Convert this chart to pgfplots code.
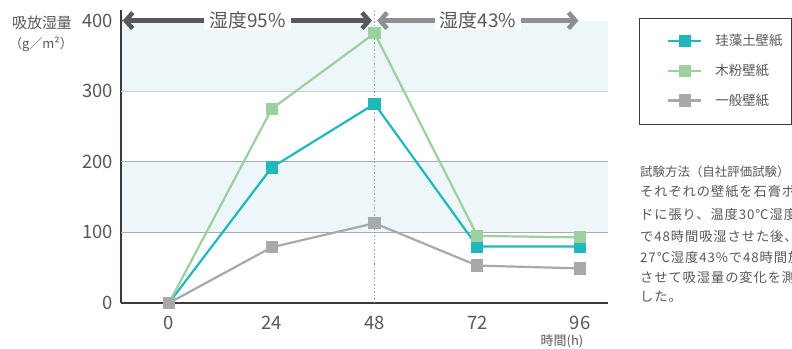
\documentclass[border=0pt]{standalone}
\usepackage{pgfplots}
\pgfplotsset{compat=1.18}
\usetikzlibrary{arrows.meta}
\usepackage{fontspec}
\setmainfont{Noto Sans CJK JP}
\newfontfamily\bodyfont[LetterSpace=7]{Noto Sans CJK JP}
\definecolor{teal1}{HTML}{21B8BC}
\definecolor{green1}{HTML}{9DD09F}
\definecolor{gray1}{HTML}{A8A9AC}
\definecolor{band}{HTML}{EDF6F8}
\definecolor{txt}{HTML}{595757}
\definecolor{darkarrow}{HTML}{58595B}
\definecolor{lightarrow}{HTML}{8E8F91}
\definecolor{spine}{HTML}{3E3A39}
\definecolor{gridA}{HTML}{A8AAAC}
\definecolor{gridB}{HTML}{C8CDCF}
\definecolor{dotc}{HTML}{9C9D9F}

\pgfplotstableread{
x y
0 0
24 192
48 282
72 80
96 80
}\teal
\pgfplotstableread{
x y
0 0
24 275
48 382
72 95
96 93
}\green
\pgfplotstableread{
x y
0 0
24 79
48 113
72 53
96 49
}\grayt

\begin{document}
\begin{tikzpicture}[x=1bp,y=1bp]
\useasboundingbox (0,0) rectangle (792,348);
\clip (0,0) rectangle (792,348);
\begin{axis}[
  at={(121bp,45bp)}, anchor=south west,
  scale only axis, width=487bp, height=293bp,
  xmin=-11.2, xmax=102.5, ymin=0, ymax=415,
  clip=false,
  axis x line*=bottom, axis y line*=left,
  axis line style={spine, line width=1.3bp, -},
  xtick={0,24,48,72,96}, ytick={0,100,200,300,400},
  tick align=inside,
  major tick length=5bp,
  xtick style={draw=none},
  ytick style={spine, line width=1bp},
  /pgf/number format/assume math mode=true,
  ticklabel style={font=\fontsize{18.5}{20}\selectfont, text=txt, inner sep=0pt},
  xticklabel style={anchor=base, yshift=-26bp},
  yticklabel style={anchor=east, xshift=-8bp},
  legend style={at={(1.1211,0.924)}, anchor=north west, draw=none, fill=none,
    inner sep=0pt, font=\fontsize{13.5}{16}\selectfont, text=txt,
    row sep=13bp, column sep=11bp, cells={anchor=west}},
  legend image code/.code={\draw[mark repeat=2,mark phase=2] plot coordinates {(0bp,0bp) (16.5bp,0bp) (33bp,0bp)};},
]
\fill[band] (axis cs:-11,100) rectangle (axis cs:102.5,200);
\fill[band] (axis cs:-11,300) rectangle (axis cs:102.5,400);
\draw[gridA, line width=1bp] (axis cs:-11.2,100) -- (axis cs:102.5,100);
\draw[gridA, line width=1bp] (axis cs:-11.2,200) -- (axis cs:102.5,200);
\draw[gridB, line width=1bp] (axis cs:-11.2,300) -- (axis cs:102.5,300);
\draw[dotc, line width=1.3bp, dash pattern=on 1.5bp off 2bp] (axis cs:48,0) -- (axis cs:48,415);

\addplot[teal1, line width=2.2bp, mark=square*, mark size=5bp, mark options={solid, fill=teal1}] table[x=x,y=y] {\teal};
\addlegendentry{珪藻土壁紙}
\addplot[green1, line width=2.2bp, mark=square*, mark size=5bp, mark options={solid, fill=green1}] table[x=x,y=y] {\green};
\addlegendentry{木粉壁紙}
\addplot[gray1, line width=2.2bp, mark=square*, mark size=5bp, mark options={solid, fill=gray1}] table[x=x,y=y] {\grayt};
\addlegendentry{一般壁紙}

\draw[darkarrow, line width=4.5bp, {Straight Barb[length=7bp,width=16bp]}-{Straight Barb[length=7bp,width=16bp]}]
  (axis cs:-10.8,400) -- (axis cs:47.4,400)
  node[midway, fill=white, text=txt, font=\fontsize{19}{21}\selectfont, inner xsep=5bp, inner ysep=1bp] {湿度95\%};
\draw[lightarrow, line width=4.5bp, {Straight Barb[length=7bp,width=16bp]}-{Straight Barb[length=7bp,width=16bp]}]
  (axis cs:48.6,400) -- (axis cs:95.6,400)
  node[midway, fill=white, text=txt, font=\fontsize{19}{21}\selectfont, inner xsep=5bp, inner ysep=1bp] {湿度43\%};
\end{axis}

% axis titles
\node[text=txt, font=\fontsize{15}{17}\selectfont] at (42,325) {吸放湿量};
\node[text=txt, font=\fontsize{13}{15}\selectfont] at (41,304) {（g／m²）};
\node[text=txt, font=\fontsize{13}{15}\selectfont] at (562,6.3) {時間(h)};

% legend frame
\draw[spine, line width=1bp] (639,329) rectangle (791,224);

% notes
\node[anchor=west, text=txt, inner sep=0pt, font=\fontsize{12.5}{15}\selectfont] at (640,176) {試験方法（自社評価試験）};
\begin{scope}[every node/.style={anchor=west, text=txt, inner sep=0pt, font=\bodyfont\fontsize{13.3}{15}\selectfont}]
\node at (640,156) {それぞれの壁紙を石膏ボード};
\node at (640,133.5) {ドに張り、温度30℃湿度95\%};
\node at (640,111.5) {で48時間吸湿させた後、温度};
\node at (640,91) {27℃湿度43\%で48時間放置};
\node at (640,71) {させて吸湿量の変化を測定};
\node at (640,51) {した。};
\end{scope}
\end{tikzpicture}
\end{document}
